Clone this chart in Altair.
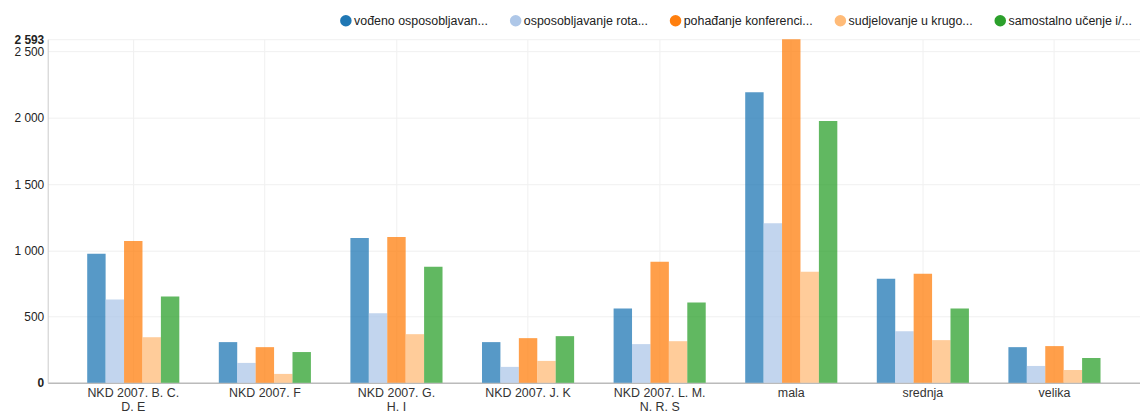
import altair as alt
import pandas as pd

categories = ["NKD 2007. B. C. D. E", "NKD 2007. F", "NKD 2007. G. H. I", "NKD 2007. J. K",
              "NKD 2007. L. M. N. R. S", "mala", "srednja", "velika"]
label_lines = {
    "NKD 2007. B. C. D. E": ["NKD 2007. B. C.", "D. E"],
    "NKD 2007. G. H. I": ["NKD 2007. G.", "H. I"],
    "NKD 2007. L. M. N. R. S": ["NKD 2007. L. M.", "N. R. S"],
}
series = ["vođeno osposobljavan...", "osposobljavanje rota...", "pohađanje konferenci...",
          "sudjelovanje u krugo...", "samostalno učenje i/..."]
v1 = [973, 307, 1093, 307, 561, 2193, 786, 269]
v2 = [629, 150, 524, 120, 292, 1205, 389, 127]
v3 = [1070, 269, 1100, 337, 913, 2593, 823, 277]
v4 = [344, 67, 367, 165, 314, 838, 322, 97]
v5 = [651, 232, 876, 352, 606, 1976, 561, 187]
colors = ["#1f77b4", "#aec7e8", "#ff7f0e", "#ffbb78", "#2ca02c"]
y_ticks = [0, 500, 1000, 1500, 2000, 2500, 2593]
y_max = 2593

rows = []
for s, vals in zip(series, [v1, v2, v3, v4, v5]):
    for c, v in zip(categories, vals):
        rows.append({"category": c, "series": s, "value": v})
df = pd.DataFrame(rows)

label_expr = ""
for k, lines in label_lines.items():
    arr = "[" + ", ".join("'" + l + "'" for l in lines) + "]"
    label_expr += f"datum.label == '{k}' ? {arr} : "
label_expr += "datum.label"

chart = alt.Chart(df).mark_bar(opacity=0.75).encode(
    x=alt.X("category:N", sort=categories,
            scale=alt.Scale(paddingInner=0.3, paddingOuter=0.3),
            axis=alt.Axis(title=None, labelAngle=0, labelExpr=label_expr, grid=True,
                          gridColor="#f0f0f0", ticks=False, domainColor="#bbbbbb",
                          domainWidth=1.5, labelFontSize=12.5, labelColor="#333333",
                          labelPadding=4, labelLineHeight=13.5)),
    xOffset=alt.XOffset("series:N", sort=series,
                        scale=alt.Scale(paddingInner=0, paddingOuter=0)),
    y=alt.Y("value:Q", scale=alt.Scale(domain=[0, y_max], nice=False),
            axis=alt.Axis(title=None, values=y_ticks, labelOverlap=False, labelFlush=False,
                          labelExpr="replace(format(datum.value, ','), ',', ' ')",
                          labelFontWeight=alt.ExprRef(expr="datum.value == 0 || datum.value == 2593 ? 'bold' : 'normal'"),
                          ticks=False, domainColor="#cccccc", gridColor="#f0f0f0",
                          labelFontSize=12, labelColor="#222222", labelPadding=4)),
    color=alt.Color("series:N", sort=series,
                    scale=alt.Scale(domain=series, range=colors),
                    legend=alt.Legend(title=None, orient="none", legendX=294, legendY=-25,
                                      direction="horizontal", columns=5, symbolType="circle",
                                      symbolSize=135, symbolOpacity=1, symbolStrokeWidth=0,
                                      labelFontSize=12.5, labelColor="#222222", labelOffset=2,
                                      columnPadding=21, labelLimit=0)),
).properties(
    width=1100, height=346, autosize="none",
    padding={"left": 40, "top": 30, "right": 0, "bottom": 31},
).configure(font="Liberation Sans").configure_view(stroke=None)

chart.save("out.html", embed_options={"renderer": "svg", "actions": False})
